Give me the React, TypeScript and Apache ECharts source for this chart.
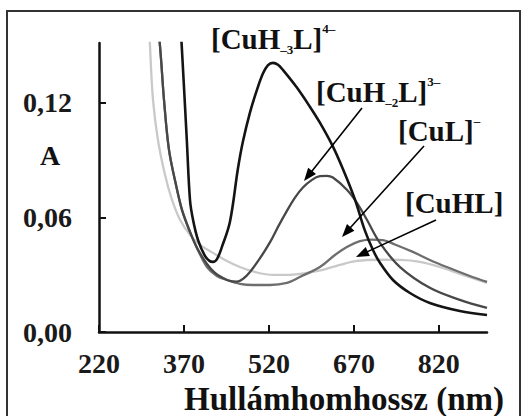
import React, { useEffect, useRef } from "react";
import * as echarts from "echarts";

const xTickValues = [220, 370, 520, 670, 820];
const yTickValues = [0, 0.06, 0.12];

// [wavelength nm, absorbance]
const cuH3L: [number, number][] = [
  [360, 0.18], [366, 0.15], [375, 0.1006], [380.6, 0.0692], [386, 0.0587], [394.7, 0.0482],
  [407, 0.0398], [415, 0.0372], [421, 0.0367], [428, 0.038], [437, 0.0445], [451.2, 0.0577],
  [465.3, 0.0855], [474, 0.0995], [486.5, 0.1148], [499, 0.1268],
  [509.4, 0.1352], [518, 0.1395], [527, 0.1408], [536, 0.1398], [545, 0.137], [569, 0.128],
  [592, 0.118], [610, 0.1095], [633, 0.097], [651, 0.085], [672, 0.0692], [689, 0.0534],
  [703.5, 0.043], [716, 0.0362], [739, 0.0272], [769, 0.0204], [804, 0.0152], [857, 0.011],
  [905, 0.0089],
];

const cuH2L: [number, number][] = [
  [318.8, 0.174], [327.6, 0.15], [334.7, 0.1216], [343.5, 0.0954], [355.9, 0.077],
  [366.5, 0.0639], [380.6, 0.0524], [393, 0.044], [410.6, 0.0356], [424.7, 0.0309],
  [438.8, 0.0283], [451, 0.0267], [463.5, 0.0264], [475, 0.028], [486.5, 0.0314],
  [504, 0.0385], [522, 0.047], [537, 0.0555], [552, 0.0635], [566, 0.0703], [580, 0.0756],
  [596, 0.0796], [610, 0.0815], [622, 0.0817], [633, 0.0808], [657.6, 0.0744],
  [675.3, 0.0676], [693, 0.0587], [716, 0.0466], [751, 0.0341], [804, 0.0231],
  [857, 0.0168], [905, 0.0126],
];

const cuL: [number, number][] = [
  [318.8, 0.174], [327.6, 0.15], [334.7, 0.1216], [343.5, 0.0954], [355.9, 0.077],
  [366.5, 0.0639], [380.6, 0.0524], [393, 0.044], [410.6, 0.034], [428.2, 0.0293],
  [445.9, 0.0272], [468.8, 0.0252], [491.8, 0.0246], [521.8, 0.0246], [551.8, 0.0257],
  [574.7, 0.0288], [610, 0.034], [636.5, 0.0403], [657.6, 0.0445], [680.6, 0.0475],
  [701.8, 0.0483], [721.2, 0.0481], [742.4, 0.0458], [774.1, 0.0419], [804.1, 0.0377],
  [834.1, 0.034], [874.7, 0.0293], [905, 0.0262],
];

const cuHL: [number, number][] = [
  [306.5, 0.174], [310, 0.15], [315.3, 0.1216], [324, 0.1006], [336.5, 0.0823],
  [348.8, 0.0692], [363, 0.0587], [380.6, 0.0508], [398.2, 0.0456], [421.2, 0.0414],
  [442.4, 0.0377], [468.8, 0.034], [495.3, 0.0314], [527, 0.0299], [557, 0.0299],
  [587, 0.0309], [615.3, 0.0325], [645.3, 0.0351], [675.3, 0.0372], [716, 0.0378],
  [751.2, 0.0377], [786.5, 0.0367], [821.8, 0.034], [857.1, 0.0304], [905, 0.0257],
];

const FONT = '"Liberation Serif", "Times New Roman", serif';

export default function App() {
  const ref = useRef<HTMLDivElement>(null);
  useEffect(() => {
    const chart = echarts.init(ref.current!, null, { renderer: "svg" });

    const arrows = [
      [362, 108, 304, 181],
      [424, 146, 342, 237],
      [436, 220, 356, 257],
    ];
    const arrowEls: any[] = [];
    arrows.forEach(([x1, y1, x2, y2]) => {
      const dx = x2 - x1, dy = y2 - y1;
      const L = Math.hypot(dx, dy);
      const ux = dx / L, uy = dy / L;
      const hl = 13, hw = 5;
      const bx = x2 - ux * hl, by = y2 - uy * hl;
      arrowEls.push({
        type: "line",
        shape: { x1, y1, x2: bx + ux * 2, y2: by + uy * 2 },
        style: { stroke: "#000", lineWidth: 1.6 },
        z: 100,
      });
      arrowEls.push({
        type: "polygon",
        shape: { points: [[x2, y2], [bx - uy * hw, by + ux * hw], [bx + uy * hw, by - ux * hw]] },
        style: { fill: "#000" },
        z: 100,
      });
    });

    const richBase = (fs: number) => ({
      m: { fontSize: fs, fontWeight: "bold", fontFamily: FONT, fill: "#111", lineHeight: 34 },
      s: { fontSize: 13, fontWeight: "bold", fontFamily: FONT, fill: "#111", verticalAlign: "bottom", lineHeight: 18 },
      p: { fontSize: 13, fontWeight: "bold", fontFamily: FONT, fill: "#111", verticalAlign: "top", lineHeight: 18 },
    });

    const label = (text: string, x: number, y: number) => ({
      type: "text",
      x,
      y,
      z: 100,
      style: {
        text,
        rich: richBase(29),
        font: `bold 29px ${FONT}`,
        fill: "#111",
        textAlign: "left",
        textVerticalAlign: "middle",
      },
    });

    chart.setOption({
      animation: false,
      backgroundColor: "#fff",
      grid: { left: 99, right: 36, top: 43, bottom: 84, containLabel: false },
      xAxis: {
        type: "value",
        min: 220,
        max: 905,
        axisLine: { show: true, lineStyle: { color: "#111", width: 2.5 } },
        axisTick: {
          show: true,
          inside: true,
          length: 7,
          lineStyle: { color: "#111", width: 2 },
          customValues: xTickValues,
        },
        axisLabel: {
          customValues: xTickValues,
          margin: 17,
          color: "#1a1a1a",
          fontSize: 28,
          fontWeight: "bold",
          fontFamily: FONT,
        },
        splitLine: { show: false },
      },
      yAxis: {
        type: "value",
        min: 0,
        max: 0.1512,
        axisLine: { show: true, lineStyle: { color: "#111", width: 2.5 } },
        axisTick: {
          show: true,
          inside: true,
          length: 7,
          lineStyle: { color: "#111", width: 2 },
          customValues: yTickValues,
        },
        axisLabel: {
          customValues: yTickValues,
          margin: 27,
          color: "#1a1a1a",
          fontSize: 28,
          fontWeight: "bold",
          fontFamily: FONT,
          formatter: (v: number) => v.toFixed(2).replace(".", ","),
        },
        splitLine: { show: false },
      },
      series: [
        { name: "[CuHL]", type: "line", data: cuHL, smooth: 0.35, showSymbol: false, clip: true,
          lineStyle: { color: "#c9c9c9", width: 2.3 }, z: 2 },
        { name: "[CuL]-", type: "line", data: cuL, smooth: 0.35, showSymbol: false, clip: true,
          lineStyle: { color: "#6e6e6e", width: 2.3 }, z: 3 },
        { name: "[CuH-2L]3-", type: "line", data: cuH2L, smooth: 0.35, showSymbol: false, clip: true,
          lineStyle: { color: "#484848", width: 2.3 }, z: 4 },
        { name: "[CuH-3L]4-", type: "line", data: cuH3L, smooth: 0.35, showSymbol: false, clip: true,
          lineStyle: { color: "#141414", width: 2.6 }, z: 5 },
      ],
      graphic: [
        {
          type: "rect",
          shape: { x: 7, y: 11, width: 513, height: 420 },
          style: { fill: "none", stroke: "#333", lineWidth: 2 },
          z: 0,
        },
        label("{m|[CuH}{s|–3}{m|L]}{p|4–}", 211, 39),
        label("{m|[CuH}{s|–2}{m|L]}{p|3–}", 316, 92),
        label("{m|[CuL]}{p|–}", 398, 131),
        label("{m|[CuHL]}", 405, 203),
        {
          type: "text",
          x: 50,
          y: 155,
          z: 100,
          style: { text: "A", font: `bold 28px ${FONT}`, fill: "#111", textAlign: "center", textVerticalAlign: "middle" },
        },
        {
          type: "text",
          x: 344,
          y: 399,
          z: 100,
          style: {
            text: "Hullámhomhossz (nm)",
            font: `bold 33px ${FONT}`,
            fill: "#111",
            textAlign: "center",
            textVerticalAlign: "middle",
          },
        },
        ...arrowEls,
      ],
    });
    return () => chart.dispose();
  }, []);
  return (
    <div
      ref={ref}
      style={{ position: "fixed", left: 0, top: 0, width: 523, height: 416, background: "#fff" }}
    />
  );
}
